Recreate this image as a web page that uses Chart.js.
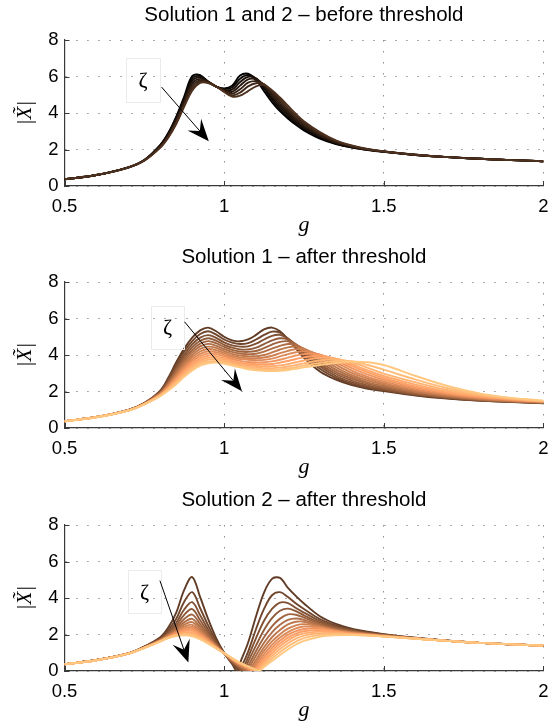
<!DOCTYPE html>
<html><head><meta charset="utf-8">
<script src="https://cdn.jsdelivr.net/npm/chart.js@4.4.1/dist/chart.umd.min.js"></script>
<style>
html,body{margin:0;padding:0;background:#fff;}
#wrap{position:relative;width:558px;height:726px;overflow:hidden;background:#fff;}
canvas{position:absolute;left:0;}
</style></head><body>
<div id="wrap">
<canvas id="c1" width="558" height="242" style="top:0px"></canvas>
<canvas id="c2" width="558" height="242" style="top:242px"></canvas>
<canvas id="c3" width="558" height="242" style="top:485px"></canvas>
</div>
<script>
// ---- data ----
const gValues = [0.5,0.6,0.7,0.75,0.8,0.825,0.85,0.875,0.9,0.925,0.95,0.975,1.0,1.025,1.05,1.075,1.1,1.125,1.15,1.175,1.2,1.225,1.25,1.3,1.35,1.4,1.45,1.5,1.6,1.7,1.8,1.9,2.0];
const xTicks = [0.5, 1, 1.5, 2];
const yTicks = [0, 2, 4, 6, 8];

const titles = ["Solution 1 and 2 \u2013 before threshold", "Solution 1 \u2013 after threshold", "Solution 2 \u2013 after threshold"];

// Solution 1 and 2, before threshold (7 damping values)
const beforeThreshold = [
 [0.37,0.60,1.02,1.42,2.25,2.90,3.80,4.90,6.02,6.08,5.70,5.45,5.35,5.50,6.05,6.15,5.80,5.20,4.60,4.10,3.70,3.35,3.05,2.60,2.30,2.10,1.97,1.87,1.70,1.58,1.49,1.42,1.36],
 [0.37,0.60,1.02,1.42,2.22,2.86,3.73,4.80,5.88,6.02,5.72,5.45,5.32,5.40,5.88,6.08,5.88,5.35,4.75,4.22,3.80,3.44,3.13,2.66,2.33,2.12,1.98,1.88,1.70,1.58,1.49,1.42,1.36],
 [0.37,0.60,1.02,1.41,2.20,2.81,3.66,4.70,5.75,5.95,5.72,5.45,5.28,5.28,5.70,5.98,5.90,5.45,4.87,4.35,3.92,3.53,3.21,2.72,2.36,2.14,1.99,1.88,1.70,1.58,1.49,1.42,1.36],
 [0.37,0.60,1.02,1.41,2.17,2.76,3.59,4.60,5.62,5.87,5.70,5.45,5.25,5.16,5.50,5.84,5.84,5.52,5.00,4.48,4.03,3.63,3.29,2.77,2.40,2.16,2.00,1.89,1.71,1.58,1.49,1.42,1.36],
 [0.37,0.60,1.01,1.40,2.15,2.72,3.52,4.52,5.48,5.79,5.68,5.45,5.21,5.05,5.30,5.66,5.74,5.56,5.10,4.61,4.15,3.73,3.38,2.83,2.43,2.18,2.01,1.89,1.71,1.58,1.49,1.42,1.36],
 [0.37,0.60,1.01,1.40,2.12,2.68,3.46,4.43,5.35,5.72,5.66,5.45,5.18,4.96,5.12,5.46,5.63,5.58,5.18,4.73,4.27,3.84,3.46,2.89,2.47,2.20,2.02,1.90,1.71,1.58,1.49,1.42,1.36],
 [0.37,0.60,1.01,1.39,2.10,2.65,3.40,4.35,5.22,5.65,5.64,5.45,5.15,4.90,4.95,5.20,5.46,5.53,5.25,4.85,4.40,3.95,3.55,2.95,2.50,2.22,2.03,1.90,1.71,1.58,1.49,1.42,1.36]
];

// Solution 1, after threshold (15 damping values)
const solution1After = [
 [0.37,0.60,0.99,1.37,2.05,2.75,3.60,4.35,4.95,5.35,5.50,5.30,5.00,4.80,4.75,4.85,5.10,5.40,5.50,5.30,4.85,4.35,3.85,3.10,2.65,2.35,2.15,2.02,1.78,1.61,1.50,1.42,1.36],
 [0.37,0.60,0.99,1.36,2.02,2.68,3.48,4.19,4.76,5.15,5.30,5.12,4.85,4.68,4.60,4.65,4.85,5.10,5.28,5.22,4.90,4.45,4.00,3.25,2.75,2.42,2.20,2.06,1.80,1.63,1.51,1.43,1.37],
 [0.37,0.60,0.98,1.36,1.99,2.60,3.35,4.03,4.58,4.95,5.09,4.94,4.69,4.53,4.46,4.47,4.62,4.85,5.05,5.10,4.90,4.52,4.10,3.38,2.85,2.50,2.26,2.10,1.83,1.65,1.52,1.44,1.38],
 [0.37,0.60,0.98,1.35,1.96,2.54,3.24,3.89,4.42,4.78,4.92,4.79,4.56,4.40,4.31,4.30,4.40,4.60,4.80,4.92,4.85,4.58,4.20,3.50,2.96,2.60,2.33,2.15,1.86,1.67,1.53,1.45,1.38],
 [0.37,0.60,0.98,1.34,1.94,2.48,3.14,3.76,4.27,4.62,4.76,4.65,4.44,4.28,4.19,4.17,4.22,4.38,4.57,4.72,4.75,4.58,4.28,3.62,3.08,2.70,2.42,2.22,1.90,1.70,1.55,1.46,1.39],
 [0.37,0.60,0.98,1.34,1.91,2.43,3.05,3.64,4.13,4.47,4.61,4.51,4.32,4.17,4.08,4.05,4.07,4.18,4.35,4.50,4.60,4.55,4.33,3.75,3.20,2.80,2.50,2.30,1.95,1.73,1.57,1.47,1.40],
 [0.37,0.60,0.97,1.33,1.89,2.38,2.96,3.53,3.99,4.33,4.46,4.39,4.21,4.06,3.97,3.93,3.93,4.00,4.14,4.30,4.42,4.46,4.35,3.88,3.33,2.90,2.60,2.38,2.00,1.76,1.59,1.48,1.41],
 [0.37,0.60,0.97,1.33,1.87,2.33,2.88,3.42,3.87,4.19,4.33,4.27,4.11,3.96,3.87,3.83,3.82,3.86,3.96,4.10,4.23,4.32,4.31,3.98,3.47,3.02,2.70,2.46,2.06,1.80,1.62,1.50,1.42],
 [0.37,0.60,0.97,1.32,1.85,2.28,2.80,3.32,3.75,4.06,4.20,4.15,4.01,3.87,3.78,3.74,3.72,3.73,3.80,3.92,4.05,4.15,4.20,4.02,3.60,3.15,2.80,2.55,2.12,1.84,1.65,1.52,1.43],
 [0.37,0.60,0.97,1.32,1.83,2.24,2.73,3.22,3.64,3.94,4.08,4.05,3.92,3.78,3.68,3.62,3.60,3.60,3.65,3.74,3.86,3.97,4.05,4.02,3.70,3.28,2.92,2.65,2.20,1.89,1.68,1.54,1.44],
 [0.37,0.60,0.97,1.31,1.81,2.20,2.65,3.12,3.52,3.82,3.96,3.94,3.83,3.68,3.58,3.52,3.50,3.49,3.51,3.58,3.67,3.78,3.87,3.96,3.78,3.40,3.05,2.75,2.28,1.94,1.72,1.57,1.45],
 [0.37,0.60,0.96,1.31,1.80,2.16,2.58,3.03,3.42,3.71,3.84,3.84,3.74,3.60,3.49,3.43,3.40,3.38,3.39,3.43,3.50,3.60,3.70,3.85,3.80,3.50,3.15,2.85,2.38,2.00,1.76,1.59,1.46],
 [0.37,0.59,0.96,1.31,1.78,2.12,2.52,2.95,3.33,3.61,3.74,3.75,3.67,3.53,3.42,3.35,3.31,3.28,3.28,3.31,3.37,3.45,3.54,3.70,3.78,3.60,3.30,2.98,2.50,2.08,1.80,1.61,1.47],
 [0.37,0.59,0.96,1.30,1.76,2.08,2.46,2.87,3.23,3.51,3.64,3.66,3.59,3.47,3.37,3.28,3.23,3.20,3.19,3.21,3.26,3.33,3.42,3.57,3.68,3.66,3.45,3.20,2.65,2.18,1.85,1.63,1.48],
 [0.37,0.59,0.96,1.30,1.75,2.05,2.40,2.80,3.15,3.42,3.55,3.58,3.52,3.42,3.32,3.22,3.16,3.13,3.12,3.14,3.18,3.24,3.32,3.45,3.56,3.63,3.60,3.45,2.85,2.30,1.90,1.65,1.50]
];

// Solution 2, after threshold (15 damping values)
const solution2After = [
 [0.37,0.60,0.97,1.34,1.85,2.38,3.20,4.45,5.15,4.05,2.85,1.80,1.00,0.38,0.45,1.55,3.00,4.30,5.05,5.10,4.55,4.10,3.70,3.00,2.58,2.32,2.15,2.02,1.82,1.66,1.54,1.46,1.39],
 [0.37,0.60,0.96,1.33,1.80,2.24,2.86,3.80,4.32,3.44,2.50,1.65,0.99,0.42,0.06,1.05,2.30,3.40,4.15,4.32,4.05,3.70,3.40,2.85,2.50,2.27,2.12,2.00,1.81,1.66,1.54,1.46,1.39],
 [0.37,0.60,0.96,1.32,1.76,2.14,2.64,3.37,3.77,3.05,2.27,1.56,0.98,0.47,0.08,0.75,1.80,2.75,3.40,3.75,3.72,3.45,3.20,2.75,2.43,2.23,2.09,1.98,1.80,1.66,1.54,1.46,1.39],
 [0.37,0.60,0.96,1.31,1.74,2.08,2.49,3.08,3.39,2.78,2.11,1.49,0.98,0.50,0.15,0.50,1.40,2.25,2.90,3.30,3.42,3.28,3.05,2.66,2.38,2.20,2.07,1.97,1.80,1.66,1.54,1.46,1.39],
 [0.37,0.60,0.96,1.30,1.72,2.02,2.37,2.85,3.09,2.57,1.99,1.44,0.97,0.53,0.20,0.25,1.10,1.85,2.45,2.87,3.10,3.08,2.92,2.58,2.33,2.17,2.05,1.96,1.79,1.66,1.54,1.46,1.39],
 [0.37,0.60,0.96,1.29,1.70,1.98,2.29,2.68,2.86,2.41,1.89,1.40,0.97,0.56,0.24,0.05,0.85,1.55,2.12,2.53,2.80,2.88,2.80,2.50,2.28,2.14,2.03,1.95,1.79,1.65,1.54,1.46,1.39],
 [0.37,0.60,0.96,1.29,1.68,1.95,2.22,2.54,2.68,2.28,1.82,1.37,0.97,0.59,0.28,0.05,0.62,1.30,1.85,2.25,2.55,2.70,2.70,2.45,2.25,2.12,2.02,1.94,1.79,1.65,1.54,1.46,1.39],
 [0.37,0.59,0.96,1.28,1.67,1.92,2.16,2.43,2.53,2.17,1.76,1.35,0.97,0.61,0.31,0.10,0.45,1.10,1.62,2.02,2.32,2.50,2.57,2.42,2.22,2.10,2.01,1.93,1.78,1.65,1.54,1.46,1.39],
 [0.37,0.59,0.95,1.28,1.66,1.89,2.11,2.34,2.41,2.09,1.71,1.33,0.97,0.63,0.34,0.13,0.30,0.92,1.43,1.83,2.13,2.33,2.44,2.38,2.20,2.08,2.00,1.92,1.78,1.65,1.54,1.46,1.39],
 [0.37,0.59,0.95,1.28,1.65,1.87,2.07,2.26,2.30,2.02,1.67,1.31,0.97,0.65,0.37,0.15,0.18,0.76,1.27,1.67,1.98,2.18,2.30,2.33,2.18,2.06,1.99,1.91,1.78,1.65,1.54,1.46,1.39],
 [0.37,0.59,0.95,1.27,1.64,1.85,2.03,2.18,2.20,1.94,1.62,1.29,0.97,0.66,0.40,0.19,0.08,0.62,1.12,1.52,1.83,2.05,2.18,2.25,2.15,2.04,1.98,1.91,1.78,1.65,1.54,1.46,1.39],
 [0.37,0.59,0.95,1.27,1.64,1.83,1.99,2.11,2.11,1.88,1.59,1.28,0.97,0.68,0.42,0.20,0.02,0.50,0.97,1.37,1.68,1.92,2.06,2.16,2.10,2.02,1.97,1.90,1.78,1.65,1.54,1.46,1.39],
 [0.37,0.59,0.95,1.27,1.63,1.82,1.96,2.05,2.03,1.82,1.55,1.26,0.97,0.69,0.43,0.22,0.04,0.40,0.83,1.20,1.52,1.77,1.94,2.07,2.06,2.00,1.96,1.90,1.77,1.65,1.54,1.46,1.39],
 [0.37,0.59,0.95,1.27,1.62,1.81,1.93,2.00,1.96,1.77,1.52,1.25,0.97,0.70,0.44,0.24,0.06,0.30,0.68,1.04,1.35,1.61,1.80,1.98,2.01,1.99,1.95,1.89,1.77,1.65,1.54,1.46,1.39],
 [0.37,0.59,0.95,1.27,1.62,1.80,1.91,1.95,1.90,1.73,1.50,1.24,0.97,0.70,0.45,0.26,0.08,0.22,0.55,0.88,1.18,1.45,1.65,1.88,1.96,1.97,1.94,1.89,1.77,1.65,1.54,1.46,1.39]
];
// g where each Solution 2 curve touches zero
const solution2Zeros = [1.04,1.048,1.055,1.062,1.068,1.074,1.079,1.084,1.089,1.093,1.097,1.101,1.104,1.107,1.11];

// ---- annotation placement (data units) ----
const annotations = [
  { box: [0.693, 0.798, 6.99, 4.58], zeta: [0.746, 5.72], from: [0.804, 5.42], to: [0.952, 2.45] },
  { box: [0.771, 0.874, 6.71, 4.38], zeta: [0.823, 5.48], from: [0.876, 5.82], to: [1.056, 2.02] },
  { box: [0.699, 0.802, 5.53, 3.16], zeta: [0.751, 4.28], from: [0.799, 4.95], to: [0.888, 0.46] }
];

// MATLAB "copper" colormap
function copper(t) {
  return 'rgb(' + Math.round(255 * Math.min(1, 1.25 * t)) + ',' + Math.round(255 * 0.7812 * t) + ',' + Math.round(255 * 0.4975 * t) + ')';
}

const SANS = '"Liberation Sans", Arial, Helvetica, sans-serif';
const SERIF = '"Liberation Serif", "Times New Roman", serif';

function annPlugin(ann) {
  return {
    id: 'zetaAnn',
    afterDatasetsDraw(chart) {
      const ctx = chart.ctx, x = chart.scales.x, y = chart.scales.y;
      ctx.save();
      // inward tick marks
      ctx.strokeStyle = '#3a3a3a';
      ctx.lineWidth = 1;
      xTicks.forEach(v => {
        const px = Math.round(x.getPixelForValue(v)) + 0.5;
        ctx.beginPath(); ctx.moveTo(px, y.bottom); ctx.lineTo(px, y.bottom - 5); ctx.stroke();
      });
      yTicks.forEach(v => {
        const py = Math.round(y.getPixelForValue(v)) + 0.5;
        ctx.beginPath(); ctx.moveTo(x.left, py); ctx.lineTo(x.left + 5, py); ctx.stroke();
      });
      // text box
      const bx0 = x.getPixelForValue(ann.box[0]), bx1 = x.getPixelForValue(ann.box[1]);
      const by0 = y.getPixelForValue(ann.box[2]), by1 = y.getPixelForValue(ann.box[3]);
      ctx.strokeStyle = '#ebebeb';
      ctx.lineWidth = 1;
      ctx.strokeRect(Math.round(bx0) + 0.5, Math.round(by0) + 0.5, Math.round(bx1 - bx0), Math.round(by1 - by0));
      ctx.fillStyle = '#000';
      ctx.font = '22px ' + SERIF;
      ctx.textAlign = 'center';
      ctx.textBaseline = 'middle';
      ctx.fillText('\u03B6', x.getPixelForValue(ann.zeta[0]), y.getPixelForValue(ann.zeta[1]));
      // arrow
      const sx = x.getPixelForValue(ann.from[0]), sy = y.getPixelForValue(ann.from[1]);
      const tx = x.getPixelForValue(ann.to[0]), ty = y.getPixelForValue(ann.to[1]);
      const len = Math.hypot(tx - sx, ty - sy);
      const dx = (tx - sx) / len, dy = (ty - sy) / len;
      const nx = -dy, ny = dx;
      const L = 22, W = 9;
      ctx.strokeStyle = '#000';
      ctx.lineWidth = 1;
      ctx.beginPath(); ctx.moveTo(sx, sy); ctx.lineTo(tx - dx * L * 0.6, ty - dy * L * 0.6); ctx.stroke();
      ctx.beginPath();
      ctx.moveTo(tx, ty);
      ctx.lineTo(tx - dx * L + nx * W, ty - dy * L + ny * W);
      ctx.lineTo(tx - dx * L * 0.62, ty - dy * L * 0.62);
      ctx.lineTo(tx - dx * L - nx * W, ty - dy * L - ny * W);
      ctx.closePath();
      ctx.fill();
      ctx.restore();
    }
  };
}

function makeChart(canvasId, titleText, curves, shades, zeros, ann) {
  const n = curves.length;
  const datasets = curves.map((vals, i) => {
    const pts = gValues.map((gv, k) => ({ x: gv, y: vals[k] }));
    if (zeros) { pts.push({ x: zeros[i], y: 0 }); pts.sort((a, b) => a.x - b.x); }
    return {
      data: pts,
      borderColor: copper(shades[i]),
      borderWidth: 1.9,
      pointRadius: 0,
      pointHoverRadius: 0,
      tension: 0.35,
      fill: false,
      order: n - 1 - i
    };
  });
  const gridOpts = { color: '#8f8f8f', lineWidth: 1, drawTicks: false };
  const borderOpts = { display: true, color: '#3a3a3a', width: 1.2, dash: [1.5, 9.5] };
  const tickFont = { family: SANS, size: 18.5 };
  const fmt = v => String(Math.round(v * 10) / 10);
  return new Chart(document.getElementById(canvasId), {
    type: 'line',
    data: { datasets },
    options: {
      responsive: false,
      animation: false,
      devicePixelRatio: 1,
      events: [],
      layout: { padding: { left: 0, right: 6, top: 0, bottom: 0 } },
      plugins: {
        legend: { display: false },
        tooltip: { enabled: false },
        title: {
          display: true, text: titleText, fullSize: false, color: '#000',
          font: { family: SANS, size: 20.5, weight: 'normal', lineHeight: 1.2 },
          padding: { top: 3.5, bottom: 11.9 }
        }
      },
      scales: {
        x: {
          type: 'linear', min: 0.5, max: 2,
          afterFit: s => { s.height = 56; },
          afterBuildTicks: s => { s.ticks = xTicks.map(v => ({ value: v })); },
          ticks: { color: '#000', font: tickFont, padding: 9.5, maxRotation: 0, autoSkip: false, callback: fmt },
          grid: gridOpts, border: borderOpts,
          title: { display: true, text: 'g', color: '#000', font: { family: SERIF, style: 'italic', size: 22, lineHeight: 1.2 }, padding: { top: 0, bottom: 4 } }
        },
        y: {
          type: 'linear', min: 0, max: 8,
          afterFit: s => { s.width = 64.5; },
          afterBuildTicks: s => { s.ticks = yTicks.map(v => ({ value: v })); },
          ticks: { color: '#000', font: tickFont, padding: 6, callback: fmt },
          grid: gridOpts, border: borderOpts,
          title: { display: true, text: '|X\u0303|', color: '#000', font: { family: SERIF, style: 'italic', size: 21, lineHeight: 1.2 }, padding: { top: 12.4, bottom: 0 } }
        }
      }
    },
    plugins: [annPlugin(ann)]
  });
}

const shadesBefore = [0, 0.04, 0.08, 0.12, 0.16, 0.20, 0.24];
const shadesAfter = [0.30,0.35,0.40,0.45,0.50,0.55,0.60,0.65,0.70,0.75,0.80,0.85,0.90,0.95,1.0];

makeChart('c1', titles[0], beforeThreshold, shadesBefore, null, annotations[0]);
makeChart('c2', titles[1], solution1After, shadesAfter, null, annotations[1]);
makeChart('c3', titles[2], solution2After, shadesAfter, solution2Zeros, annotations[2]);
</script>
</body></html>
